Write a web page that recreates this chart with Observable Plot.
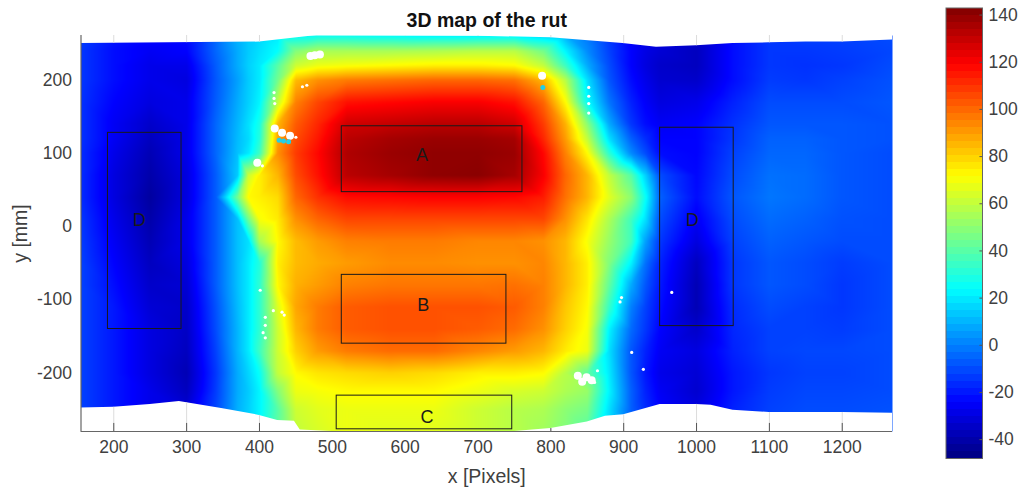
<!DOCTYPE html>
<html><head><meta charset="utf-8">
<script src="https://cdn.jsdelivr.net/npm/d3@7"></script>
<script src="https://cdn.jsdelivr.net/npm/@observablehq/plot@0.6"></script>
<style>
html,body{margin:0;background:#fff}
#wrap{position:relative;width:1018px;height:489px;overflow:hidden}
#wrap svg{position:absolute;top:0;background:transparent}
</style></head><body><div id="wrap"></div>
<script>
const xColumns=[155,200,250,300,340,370,385,400,425,450,480,520,580,640,700,750,790,820,850,880,910,930,950,1000,1050,1100,1150,1200,1269];
const yRows=[262,240,220,200,170,140,120,100,70,40,10,-20,-50,-80,-110,-140,-170,-200,-225,-250,-280];
const depth=[
[-12,-20,-22,-22,-5,10,14,16,20,22,24,24,22,20,20,20,14,8,-2,-14,-25,-28,-30,-32,-22,-14,-12,-12,-10],
[-14,-22,-26,-24,-5,8,14,18,24,48,55,55,55,56,58,58,45,22,2,-12,-24,-29,-32,-36,-22,-14,-14,-13,-11],
[-14,-22,-28,-28,-7,8,15,20,40,62,68,70,72,74,74,72,60,35,8,-10,-24,-30,-34,-36,-22,-14,-15,-14,-10],
[-14,-22,-28,-30,-8,6,14,20,45,84,92,96,98,100,100,98,85,58,18,-8,-22,-28,-33,-34,-22,-13,-14,-12,-9],
[-15,-24,-30,-28,-7,8,15,22,60,95,106,116,118,120,120,116,100,72,25,-2,-18,-25,-30,-28,-18,-10,-10,-10,-8],
[-15,-26,-34,-28,-5,10,18,28,85,102,112,128,130,132,132,128,108,86,50,8,-14,-22,-26,-24,-15,-8,-8,-8,-9],
[-15,-26,-36,-28,-5,11,17,30,88,105,115,132,136,138,138,136,112,90,60,18,-6,-16,-24,-24,-14,-6,-6,-8,-9],
[-16,-28,-38,-28,-5,12,20,35,92,108,118,134,138,140,140,138,118,95,72,32,2,-10,-22,-24,-12,-5,-5,-8,-10],
[-16,-30,-40,-30,-7,14,62,74,85,105,116,132,136,140,141,136,120,100,85,60,40,15,-10,-23,-10,-3,-4,-8,-10],
[-16,-30,-42,-30,-7,45,72,74,78,100,110,117,118,119,119,118,114,98,85,66,50,25,-6,-22,-8,-2,-4,-8,-10],
[-14,-28,-40,-28,-7,12,45,70,75,92,100,106,106,106,106,106,106,92,76,56,36,18,-10,-26,-10,-4,-6,-9,-10],
[-13,-26,-38,-28,-7,12,18,55,72,84,90,95,96,96,94,94,92,85,70,52,36,6,-14,-30,-12,-6,-8,-10,-10],
[-12,-24,-36,-30,-7,12,20,30,74,84,87,90,93,93,92,92,94,85,74,48,22,-3,-18,-36,-14,-8,-10,-13,-10],
[-12,-22,-34,-32,-7,12,20,32,72,86,90,95,97,97,97,98,95,85,74,42,8,-8,-20,-38,-14,-8,-10,-14,-10],
[-12,-20,-32,-34,-9,11,20,32,65,88,96,102,104,104,104,102,95,82,72,34,0,-12,-22,-38,-16,-10,-12,-14,-10],
[-12,-20,-30,-35,-10,10,20,32,62,85,96,102,104,104,102,99,92,80,70,22,-4,-14,-24,-34,-17,-12,-12,-13,-10],
[-12,-20,-30,-36,-12,10,20,35,62,80,90,96,99,99,94,90,85,75,68,18,-8,-18,-26,-30,-18,-12,-11,-11,-10],
[-12,-20,-30,-38,-14,8,16,25,60,72,76,78,80,78,74,74,72,58,42,20,-8,-20,-28,-32,-20,-14,-12,-12,-10],
[-12,-20,-28,-36,-13,8,14,22,48,68,70,72,72,72,68,64,62,56,52,22,-6,-18,-26,-33,-20,-13,-11,-11,-10],
[-12,-20,-28,-32,-11,9,15,22,40,62,66,68,68,68,62,58,56,50,46,18,-6,-16,-24,-30,-18,-12,-10,-10,-9],
[-12,-20,-26,-30,-10,9,15,22,42,60,64,68,66,66,62,58,54,48,40,18,-6,-16,-24,-30,-18,-12,-10,-10,-9]
];
const topEdgeX=[155,400,479,700,800,899,945,1000,1050,1100,1150,1200,1269];
const topEdgeY=[250,252,261,260,258,250,245,247,250,251,252,252,255];
const bottomEdgeX=[155,200,250,290,350,400,425,448,456,500,750,800,850,875,900,950,1000,1020,1050,1100,1150,1200,1269];
const bottomEdgeY=[-248,-247,-243,-239,-249,-258,-265,-266,-278,-280,-280,-276,-267,-259,-257,-243,-243,-244,-251,-254,-254,-254,-255];
const xTicks=[200,300,400,500,600,700,800,900,1000,1100,1200];
const yTicks=[-200,-100,0,100,200];
const barTicks=[-40,-20,0,20,40,60,80,100,120,140];
const boxNames=["A","B","C","D","D"];
const boxX1=[513,513,506,192,950];
const boxX2=[761,739,747,293,1051];
const boxY1=[47,-160,-277,-140,-136];
const boxY2=[137,-66,-231,128,135];
const labelX=[623,625,630,235,994];
const labelY=[97,-108,-261,8,9];
const gapLargeX=[476,470,483,431,421,442,397,849,837,856,843,788];
const gapLargeY=[234,233,235,128,134,124,87,-206,-204,-210,-212,206];
const gapSmallX=[459,465,420,420,421,450,404,852,852,852,852,860,864,966,927,911,897,895,408,419,431,434,408,401,408,405];
const gapSmallY=[191,193,183,175,168,122,83,190,178,168,155,-213,-197,-90,-195,-172,-97,-103,-124,-115,-117,-121,-152,-87,-135,-145];
const patchX=[433,427,440,789];
const patchY=[117,118,116,190];
const jetStops=[0,0.125,0.375,0.625,0.875,1];
const jetColors=["#000080","#0000ff","#00ffff","#ffff00","#ff0000","#800000"];
const colorMin=-48,colorMax=143;

const font='"Liberation Sans",Arial,sans-serif';
const ink="#404040";
const plain=d=>String(d);
const cells=yRows.flatMap((y,i)=>xColumns.map((x,j)=>({x,y,v:depth[i][j]})));
const topEdge=topEdgeX.map((x,i)=>({x,y:topEdgeY[i]}));
const bottomEdge=bottomEdgeX.map((x,i)=>({x,y:bottomEdgeY[i]}));
const boxes=boxNames.map((name,i)=>({name,x1:boxX1[i],x2:boxX2[i],y1:boxY1[i],y2:boxY2[i],lx:labelX[i],ly:labelY[i]}));
const pts=(xs,ys)=>xs.map((x,i)=>({x,y:ys[i]}));
const yTop=261,yBot=-280,xLeft=155,xRight=1269;
const atBottom=d3.scaleLinear(bottomEdgeX,bottomEdgeY), atTop=d3.scaleLinear(topEdgeX,topEdgeY);
const colorScale={type:"linear",domain:jetStops.map(t=>colorMin+t*(colorMax-colorMin)),range:jetColors,interpolate:"rgb",clamp:true};

const chart=Plot.plot({
  width:1018,height:489,marginLeft:80.5,marginRight:126,marginTop:35,marginBottom:58,
  style:{fontFamily:font,fontSize:"17.5px",color:ink,background:"transparent"},
  x:{domain:[xLeft,xRight]},y:{domain:[yBot,yTop]},color:colorScale,
  marks:[
    Plot.raster(cells,{x:"x",y:"y",fill:"v",interpolate:"barycentric"}),
    Plot.areaY(topEdge,{x:"x",y1:"y",y2:yTop,fill:"white"}),
    Plot.areaY(bottomEdge,{x:"x",y1:yBot,y2:"y",fill:"white"}),
    Plot.dot(pts(gapLargeX,gapLargeY),{x:"x",y:"y",r:4,fill:"white"}),
    Plot.dot(pts(gapSmallX,gapSmallY),{x:"x",y:"y",r:1.6,fill:"white"}),
    Plot.dot(pts(patchX,patchY),{x:"x",y:"y",r:2.5,fill:"#22cfe6"}),
    Plot.ruleX(xTicks,{x:d=>d,y1:yBot,y2:d=>atBottom(d),stroke:"#dcdcdc",strokeWidth:1}),
    Plot.ruleX(xTicks,{x:d=>d,y1:yTop,y2:d=>atTop(d),stroke:"#dcdcdc",strokeWidth:1}),
    Plot.ruleX(xTicks,{x:d=>d,y1:yBot,y2:d=>Math.min(yBot+11,atBottom(d)),stroke:"#555",strokeWidth:1}),
    Plot.ruleX([xLeft],{stroke:"#666",strokeWidth:1.2}),
    Plot.ruleY([yBot],{stroke:"#666",strokeWidth:1.2}),
    Plot.rect(boxes,{x1:"x1",x2:"x2",y1:"y1",y2:"y2",stroke:"#1a1a1a",strokeWidth:1,fill:"none"}),
    Plot.text(boxes,{x:"lx",y:"ly",text:"name",fill:"#1a1a1a",fontSize:18}),
    Plot.axisX(xTicks,{tickSize:0,tickPadding:9,fontSize:17.5,tickFormat:plain,label:null}),
    Plot.axisY(yTicks,{tickSize:0,tickPadding:9,fontSize:17.5,tickFormat:plain,label:null}),
    Plot.text(["x [Pixels]"],{frameAnchor:"bottom",lineAnchor:"middle",dy:45,fontSize:19.5,fill:ink}),
    Plot.text(["y [mm]"],{frameAnchor:"left",textAnchor:"middle",lineAnchor:"middle",rotate:-90,dx:-60,fontSize:19.5,fill:ink}),
    Plot.text(["3D map of the rut"],{frameAnchor:"top",lineAnchor:"middle",dy:-15,fontSize:19.5,fontWeight:"bold",fill:"#111"})
  ]
});
chart.style.left="0px";

const bands=d3.range(64).map(i=>({lo:colorMin+i*(colorMax-colorMin)/64,hi:colorMin+(i+1)*(colorMax-colorMin)/64}));
const bar=Plot.plot({
  width:88,height:489,marginLeft:15.5,marginRight:36,marginTop:7.5,marginBottom:31,
  style:{fontFamily:font,fontSize:"17.5px",color:ink,background:"transparent"},
  x:{domain:[0,1],axis:null},y:{domain:[colorMin,colorMax]},color:colorScale,
  marks:[
    Plot.rect(bands,{x1:0,x2:1,y1:"lo",y2:"hi",fill:d=>(d.lo+d.hi)/2,shapeRendering:"crispEdges"}),
    Plot.frame({stroke:"#666",strokeWidth:1}),
    Plot.ruleY(barTicks,{y:d=>d,x1:0.93,x2:1,stroke:"#555",strokeWidth:1}),
    Plot.axisY(barTicks,{anchor:"right",tickSize:0,tickPadding:6,fontSize:17.5,tickFormat:plain,label:null})
  ]
});
bar.style.left="930px";
document.getElementById("wrap").append(chart,bar);
</script></body></html>
